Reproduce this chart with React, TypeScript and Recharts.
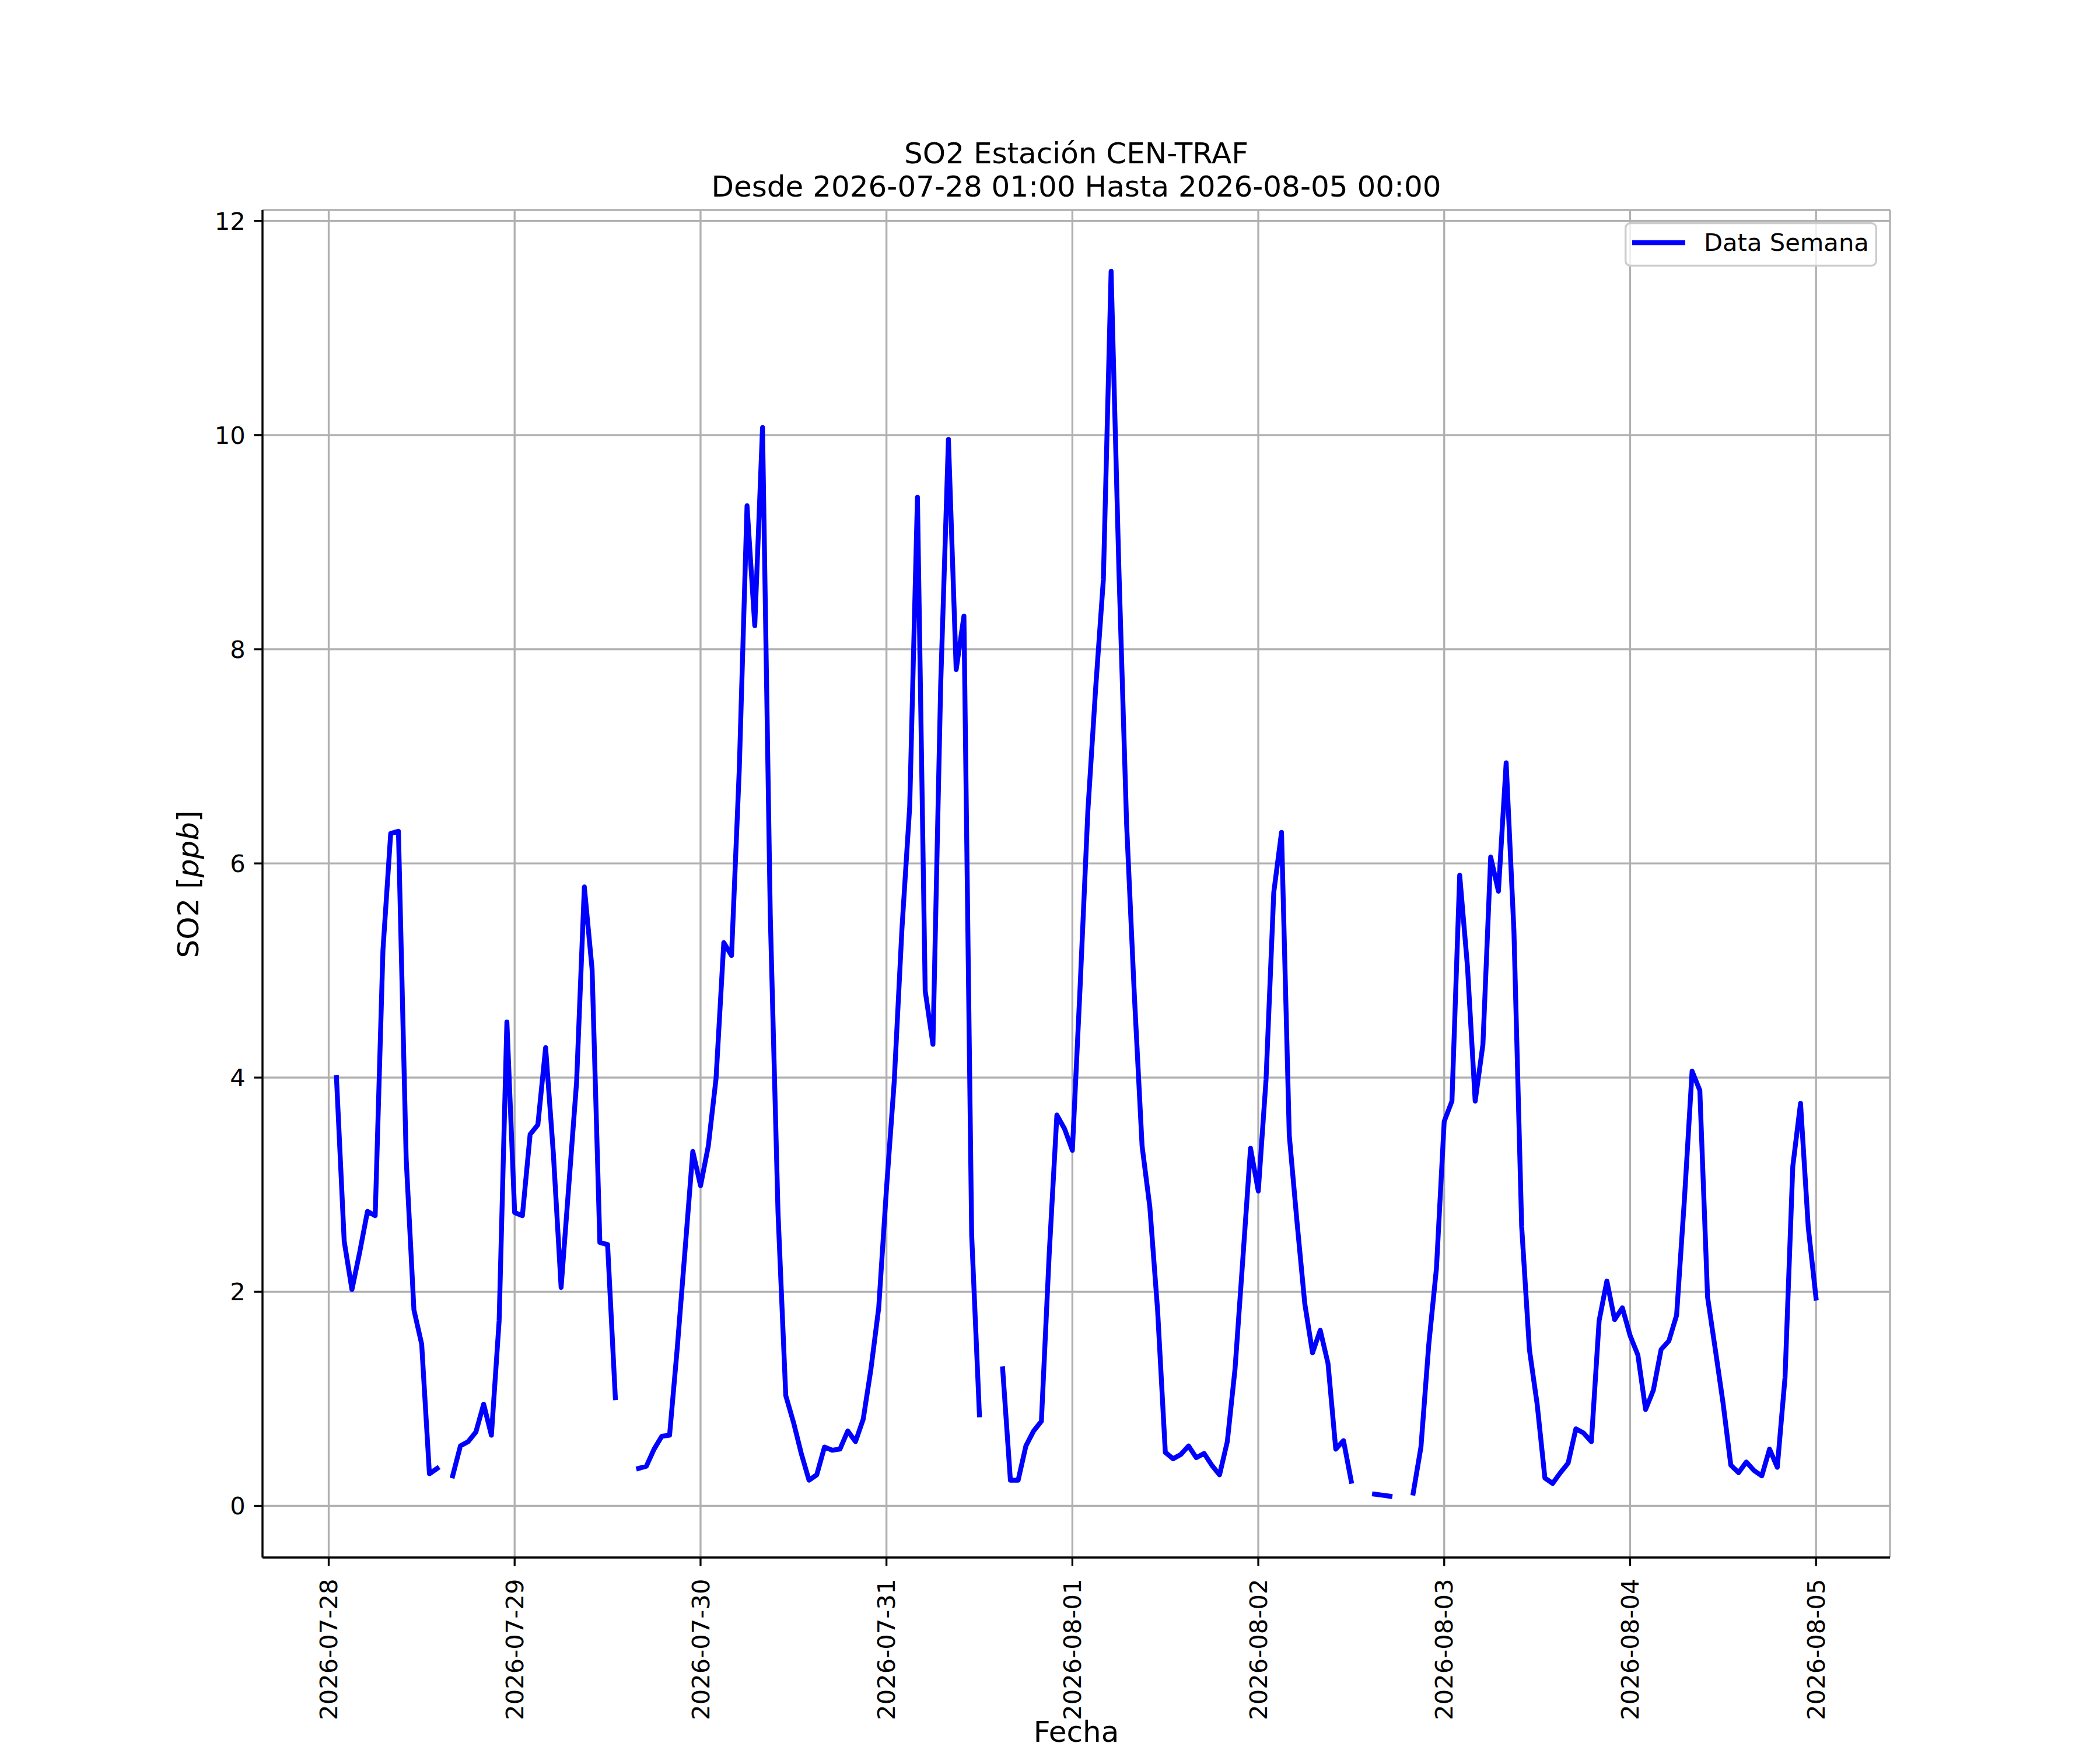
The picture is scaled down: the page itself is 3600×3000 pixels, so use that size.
import React from "react";
import {
  LineChart,
  Line,
  CartesianGrid,
  XAxis,
  YAxis,
  Legend,
} from "recharts";

// hourly SO2 readings, 2026-07-28 01:00 .. 2026-08-05 00:00 (null = no data)
const so2Values: (number | null)[] = [
  // 07-28 01:00 - 07-29 00:00
  4.0, 2.47, 2.02, 2.37, 2.75, 2.71, 5.19, 6.28, 6.3, 3.24, 1.83, 1.51,
  0.3, 0.35, null, 0.28, 0.56, 0.6, 0.69, 0.95, 0.66, 1.73, 4.52, 2.74,
  // 07-29 01:00 - 07-30 00:00
  2.71, 3.47, 3.56, 4.28, 3.29, 2.04, 3.0, 3.96, 5.78, 5.01, 2.46, 2.44,
  1.01, null, null, 0.35, 0.37, 0.53, 0.65, 0.66, 1.48, 2.39, 3.31, 2.99,
  // 07-30 01:00 - 07-31 00:00
  3.36, 3.99, 5.26, 5.14, 6.88, 9.34, 8.22, 10.07, 5.52, 2.74, 1.03, 0.78,
  0.49, 0.24, 0.29, 0.55, 0.52, 0.53, 0.7, 0.6, 0.81, 1.28, 1.85, 2.96,
  // 07-31 01:00 - 08-01 00:00
  3.96, 5.39, 6.53, 9.42, 4.81, 4.31, 7.67, 9.96, 7.81, 8.31, 2.53, 0.85,
  null, null, 1.28, 0.24, 0.24, 0.56, 0.7, 0.79, 2.34, 3.65, 3.52, 3.32,
  // 08-01 01:00 - 08-02 00:00
  4.85, 6.49, 7.63, 8.65, 11.53, 8.76, 6.37, 4.77, 3.36, 2.79, 1.83, 0.5,
  0.44, 0.48, 0.56, 0.45, 0.49, 0.38, 0.29, 0.6, 1.28, 2.3, 3.34, 2.94,
  // 08-02 01:00 - 08-03 00:00
  3.98, 5.73, 6.29, 3.46, 2.65, 1.89, 1.43, 1.64, 1.33, 0.53, 0.61, 0.23,
  null, null, 0.11, 0.1, 0.09, null, null, 0.12, 0.55, 1.5, 2.22, 3.59,
  // 08-03 01:00 - 08-04 00:00
  3.78, 5.89, 5.04, 3.78, 4.31, 6.06, 5.74, 6.94, 5.37, 2.61, 1.46, 0.95,
  0.26, 0.21, 0.31, 0.4, 0.72, 0.68, 0.6, 1.73, 2.1, 1.74, 1.85, 1.59,
  // 08-04 01:00 - 08-05 00:00
  1.41, 0.9, 1.08, 1.46, 1.54, 1.78, 2.85, 4.06, 3.88, 1.95, 1.46, 0.96,
  0.38, 0.31, 0.41, 0.33, 0.28, 0.53, 0.36, 1.2, 3.17, 3.76, 2.6, 1.94,
];

const dayLabels = [
  "2026-07-28",
  "2026-07-29",
  "2026-07-30",
  "2026-07-31",
  "2026-08-01",
  "2026-08-02",
  "2026-08-03",
  "2026-08-04",
  "2026-08-05",
];
const yTicks = [0, 2, 4, 6, 8, 10, 12];

const TITLE = "SO2 Estación CEN-TRAF";
const SUBTITLE = "Desde 2026-07-28 01:00 Hasta 2026-08-05 00:00";
const SERIES_NAME = "Data Semana";

// x is in days since 2026-07-28 00:00
const data = so2Values.map((v, i) => ({ t: (i + 1) / 24, so2: v }));
const dayTicks = dayLabels.map((_, i) => i);

const X_DOMAIN: [number, number] = [-0.3562, 8.3979];
const Y_DOMAIN: [number, number] = [-0.482, 12.102];

const FONT = "DejaVu Sans";
const PT = 300 / 72;
const LW = 0.8 * PT;

const DateTick = (props: any) => {
  const { x, y, payload } = props;
  return (
    <text
      x={x}
      y={y}
      transform={`rotate(-90, ${x}, ${y})`}
      textAnchor="end"
      dy="0.35em"
      fontFamily={FONT}
      fontSize={10 * PT}
      fill="#000"
    >
      {dayLabels[payload.value]}
    </text>
  );
};

const LegendBox = () => (
  <svg width={433} height={76} style={{ display: "block" }}>
    <rect
      x={1.7}
      y={1.7}
      width={429.6}
      height={72.6}
      rx={8}
      ry={8}
      fill="#fff"
      fillOpacity={0.8}
      stroke="#cccccc"
      strokeWidth={LW}
    />
    <line x1={13} x2={104} y1={35} y2={35} stroke="#0000ff" strokeWidth={2 * PT} />
    <text x={136} y={49} fontFamily={FONT} fontSize={10 * PT} fill="#000">
      {SERIES_NAME}
    </text>
  </svg>
);

export default function App() {
  return (
    <div
      style={{
        position: "absolute",
        left: 0,
        top: 0,
        width: 3600,
        height: 3000,
        background: "#fff",
      }}
    >
      <LineChart
        width={3600}
        height={3000}
        data={data}
        margin={{ top: 360, right: 360, bottom: 230, left: 350 }}
      >
        <CartesianGrid stroke="#b0b0b0" strokeWidth={LW} />
        <XAxis
          dataKey="t"
          type="number"
          domain={X_DOMAIN}
          allowDataOverflow
          ticks={dayTicks}
          interval={0}
          height={100}
          tick={<DateTick />}
          tickSize={3.5 * PT}
          tickMargin={22}
          tickLine={{ stroke: "#000", strokeWidth: LW }}
          axisLine={{ stroke: "#000", strokeWidth: LW }}
        />
        <XAxis
          xAxisId="top"
          orientation="top"
          type="number"
          domain={X_DOMAIN}
          allowDataOverflow
          height={0}
          tick={false}
          tickLine={false}
          axisLine={{ stroke: "#000", strokeWidth: LW }}
        />
        <YAxis
          type="number"
          domain={Y_DOMAIN}
          allowDataOverflow
          ticks={yTicks}
          interval={0}
          width={100}
          tickSize={3.5 * PT}
          tickMargin={3.5 * PT}
          tick={{ fill: "#000", fontSize: 10 * PT, fontFamily: FONT }}
          tickLine={{ stroke: "#000", strokeWidth: LW }}
          axisLine={{ stroke: "#000", strokeWidth: LW }}
        />
        <YAxis
          yAxisId="right"
          orientation="right"
          type="number"
          domain={Y_DOMAIN}
          allowDataOverflow
          width={0}
          tick={false}
          tickLine={false}
          axisLine={{ stroke: "#000", strokeWidth: LW }}
        />
        <Legend
          layout="horizontal"
          verticalAlign="middle"
          align="center"
          wrapperStyle={{ position: "absolute", left: 2785, top: 381, width: 433, height: 76 }}
          content={() => <LegendBox />}
        />
        <Line
          type="linear"
          dataKey="so2"
          name={SERIES_NAME}
          stroke="#0000ff"
          strokeWidth={2 * PT}
          strokeLinecap="square"
          strokeLinejoin="round"
          dot={false}
          activeDot={false}
          connectNulls={false}
          isAnimationActive={false}
        />
      </LineChart>

      <svg
        width={3600}
        height={3000}
        style={{ position: "absolute", left: 0, top: 0, pointerEvents: "none" }}
      >
        <g fontFamily={FONT} fontSize={12 * PT} fill="#000" textAnchor="middle">
          <text x={1845} y={280}>{TITLE}</text>
          <text x={1845} y={337}>{SUBTITLE}</text>
          <text x={1845} y={2986}>Fecha</text>
          <text x={340} y={1516} transform="rotate(-90, 340, 1516)">
            SO2 [<tspan fontStyle="italic">ppb</tspan>]
          </text>
        </g>
      </svg>
    </div>
  );
}
